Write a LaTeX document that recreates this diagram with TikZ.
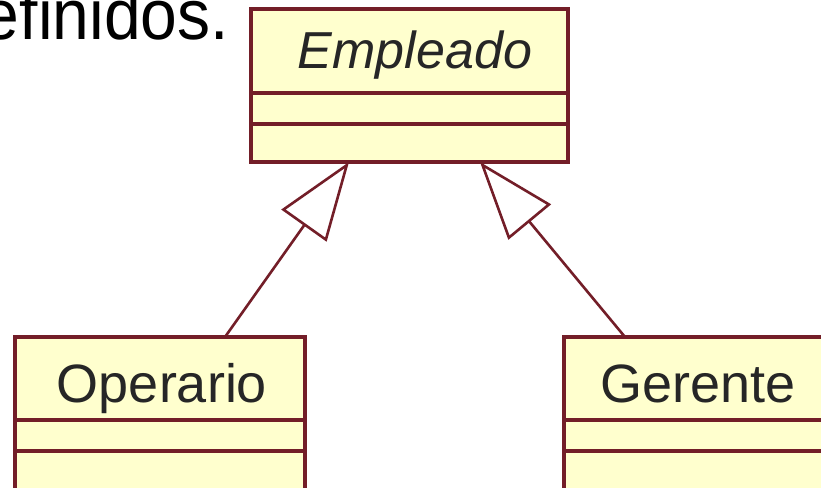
\documentclass[tikz,border=0pt]{standalone}
\usepackage{fontspec}
\setmainfont{Liberation Sans}
\usetikzlibrary{arrows.meta}
\definecolor{umlfill}{RGB}{255,255,206}
\definecolor{umlline}{RGB}{115,30,40}
\tikzset{
  cls/.style={draw=umlline, fill=umlfill, line width=3.4pt, rectangle, inner sep=0pt, outer sep=0pt},
  sep/.style={draw=umlline, line width=3.4pt},
  clsname/.style={font=\fontsize{54}{60}\selectfont, text=black!85, inner sep=0pt, anchor=base},
  gen/.style={draw=umlline, line width=2.6pt, -{Triangle[open, length=78pt, width=55pt, fill=white, line width=2.6pt]}}
}
\begin{document}
\begin{tikzpicture}[x=1pt, y=-1pt]
\useasboundingbox (0,0) rectangle (821,487);
\clip (0,0) rectangle (821,487);
\fill[white] (0,0) rectangle (821,487);
% heading fragment
\node[font=\fontsize{66}{70}\selectfont, inner sep=0pt, anchor=base east, yscale=1.08] (head) at (229,40) {definidos.};
% Empleado
\node[cls, minimum width=317pt, minimum height=153pt] (emp) at (409.5,85.5) {};
\node[clsname, font=\fontsize{52}{60}\selectfont\itshape] (empn) at (415,68) {Empleado};
\draw[sep] (emp.west |- 0,93) -- (emp.east |- 0,93);
\draw[sep] (emp.west |- 0,124) -- (emp.east |- 0,124);
% Operario
\node[cls, minimum width=290pt, minimum height=180pt] (op) at (160,427) {};
\node[clsname] (opn) at (162,402) {Operario};
\draw[sep] (op.west |- 0,420) -- (op.east |- 0,420);
\draw[sep] (op.west |- 0,451) -- (op.east |- 0,451);
% Gerente
\node[cls, minimum width=300pt, minimum height=180pt] (ger) at (714,427) {};
\node[clsname] (gern) at (698,402) {Gerente};
\draw[sep] (ger.west |- 0,420) -- (ger.east |- 0,420);
\draw[sep] (ger.west |- 0,451) -- (ger.east |- 0,451);
% generalisations
\draw[gen] (op.north -| 225,0) -- (emp.south -| 349,0);
\draw[gen] (ger.north -| 625,0) -- (emp.south -| 480,0);
\end{tikzpicture}
\end{document}
